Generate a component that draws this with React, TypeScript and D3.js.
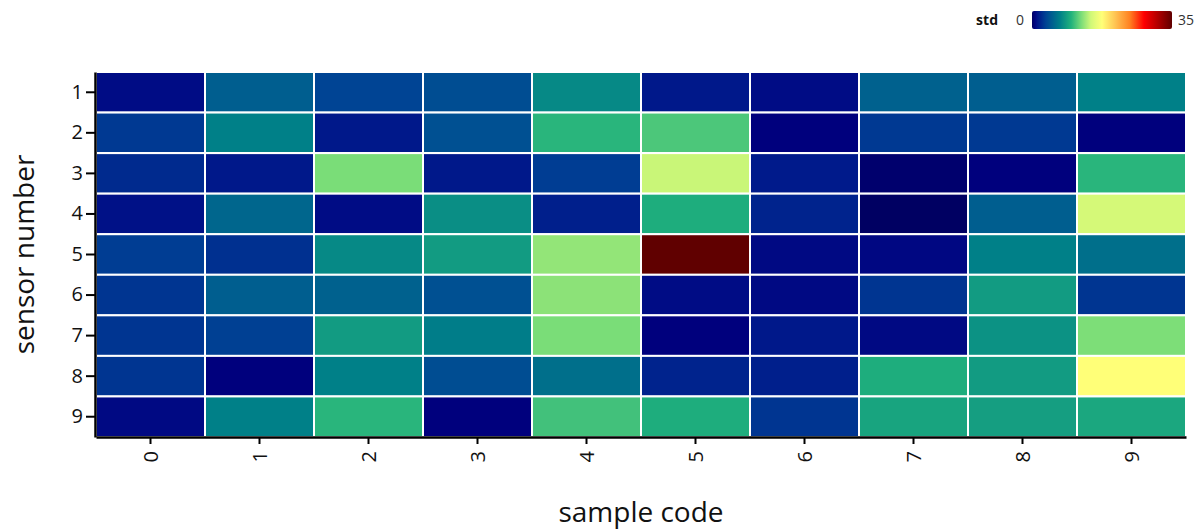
import React, { useEffect, useRef } from "react";
import * as d3 from "d3";

// sample codes (columns) and sensor numbers (rows)
const samples = ["0", "1", "2", "3", "4", "5", "6", "7", "8", "9"];
const sensors = ["1", "2", "3", "4", "5", "6", "7", "8", "9"];

// std values, one row per sensor, one column per sample
const std1 = [1.0, 5.0, 3.5, 4.0, 7.5, 1.5, 1.0, 5.2, 5.0, 7.0];
const std2 = [3.0, 7.0, 1.5, 4.2, 10.0, 11.0, 0.5, 3.0, 3.0, 0.5];
const std3 = [2.3, 1.5, 12.3, 1.5, 3.2, 14.5, 1.6, 0.2, 0.5, 10.0];
const std4 = [1.2, 5.5, 1.0, 7.8, 1.8, 9.5, 2.0, 0.0, 5.0, 15.0];
const std5 = [3.2, 2.6, 7.5, 8.5, 13.0, 35.0, 0.9, 0.8, 7.0, 6.0];
const std6 = [2.8, 5.0, 5.2, 4.2, 12.8, 1.0, 0.9, 2.8, 8.5, 2.8];
const std7 = [2.8, 3.3, 8.5, 6.8, 12.3, 0.5, 1.5, 0.9, 8.0, 12.4];
const std8 = [2.8, 0.5, 7.0, 4.0, 6.0, 2.0, 1.8, 9.5, 8.5, 17.5];
const std9 = [0.9, 7.0, 10.0, 0.5, 10.7, 9.5, 2.8, 9.0, 8.7, 9.2];
const rows = [std1, std2, std3, std4, std5, std6, std7, std8, std9];

const legendTicks = [0, 35];

const stops = [
  [0, "#000062"],
  [0.015, "#00007e"],
  [0.04, "#00168a"],
  [0.1, "#004494"],
  [0.2, "#008088"],
  [0.28, "#22b27c"],
  [0.35, "#78dc78"],
  [0.42, "#d0f878"],
  [0.5, "#ffff78"],
  [0.6, "#ffc050"],
  [0.7, "#ff8020"],
  [0.8, "#ff0000"],
  [0.9, "#b00000"],
  [1, "#600000"],
];

const W = 1203,
  H = 530;
const margin = { left: 96, right: 17, top: 72, bottom: 93 };

const App = () => {
  const svgRef = useRef(null);

  useEffect(() => {
    const svg = d3.select(svgRef.current);
    svg.selectAll("*").remove();
    const font = "'Open Sans', 'Noto Sans', sans-serif";

    const color = d3
      .scaleLinear<string>()
      .domain(stops.map((s) => (s[0] as number) * 35))
      .range(stops.map((s) => s[1] as string))
      .interpolate(d3.interpolateRgb)
      .clamp(true);

    const x = d3
      .scaleBand()
      .domain(samples)
      .range([margin.left, W - margin.right]);
    const y = d3
      .scaleBand()
      .domain(sensors)
      .range([margin.top, H - margin.bottom]);

    const cells = [];
    rows.forEach((r, i) =>
      r.forEach((v, j) => cells.push({ s: sensors[i], c: samples[j], v }))
    );

    svg
      .append("g")
      .selectAll("rect")
      .data(cells)
      .enter()
      .append("rect")
      .attr("x", (d) => x(d.c))
      .attr("y", (d) => y(d.s))
      .attr("width", x.bandwidth())
      .attr("height", y.bandwidth())
      .attr("fill", (d) => color(d.v))
      .attr("stroke", "#fff")
      .attr("stroke-width", 2);

    // axes
    const gx = svg
      .append("g")
      .attr("transform", `translate(0,${H - margin.bottom})`)
      .call(d3.axisBottom(x).tickSize(7).tickSizeOuter(0));
    gx.select(".domain").attr("stroke-width", 2.5);
    gx.selectAll(".tick line").attr("stroke-width", 2);
    gx.selectAll(".tick text")
      .attr("font-family", font)
      .attr("font-size", 20)
      .attr("fill", "#111")
      .attr("transform", "rotate(-90)")
      .attr("text-anchor", "end")
      .attr("dy", "0.35em")
      .attr("x", -14)
      .attr("y", 0);

    const gy = svg
      .append("g")
      .attr("transform", `translate(${margin.left - 1},0)`)
      .call(d3.axisLeft(y).tickSize(9).tickSizeOuter(0));
    gy.select(".domain").attr("stroke-width", 2.5);
    gy.selectAll(".tick line").attr("stroke-width", 2);
    gy.selectAll(".tick text")
      .attr("font-family", font)
      .attr("font-size", 20)
      .attr("fill", "#111")
      .attr("x", -12);

    svg
      .append("text")
      .attr("x", (margin.left + W - margin.right) / 2)
      .attr("y", 522)
      .attr("text-anchor", "middle")
      .attr("font-family", font)
      .attr("font-size", 28)
      .attr("fill", "#111")
      .text("sample code");

    svg
      .append("text")
      .attr("transform", `translate(34,${(margin.top + H - margin.bottom) / 2}) rotate(-90)`)
      .attr("text-anchor", "middle")
      .attr("font-family", font)
      .attr("font-size", 28)
      .attr("fill", "#111")
      .text("sensor number");

    // legend
    const defs = svg.append("defs");
    const grad = defs
      .append("linearGradient")
      .attr("id", "stdgrad")
      .attr("x1", "0%")
      .attr("x2", "100%");
    d3.range(0, 1.0001, 0.02).forEach((t) =>
      grad
        .append("stop")
        .attr("offset", `${t * 100}%`)
        .attr("stop-color", color(t * 35))
    );
    const lx = d3.scaleLinear().domain([0, 35]).range([1032, 1172]);
    svg
      .append("rect")
      .attr("x", lx(0))
      .attr("y", 11)
      .attr("width", lx(35) - lx(0))
      .attr("height", 18)
      .attr("rx", 2)
      .attr("fill", "url(#stdgrad)");
    svg
      .append("text")
      .attr("x", 998)
      .attr("y", 25)
      .attr("text-anchor", "end")
      .attr("font-family", font)
      .attr("font-weight", "bold")
      .attr("font-size", 14)
      .attr("fill", "#111")
      .text("std");
    svg
      .selectAll(".lt")
      .data(legendTicks)
      .enter()
      .append("text")
      .attr("x", (d, i) => (i === 0 ? lx(d) - 8 : lx(d) + 6))
      .attr("y", 25)
      .attr("text-anchor", (d, i) => (i === 0 ? "end" : "start"))
      .attr("font-family", font)
      .attr("font-size", 14)
      .attr("fill", "#333")
      .text((d) => d);
  }, []);

  return (
    <svg
      ref={svgRef}
      width={W}
      height={H}
      style={{ position: "absolute", left: 0, top: 0 }}
    ></svg>
  );
};

export default App;
